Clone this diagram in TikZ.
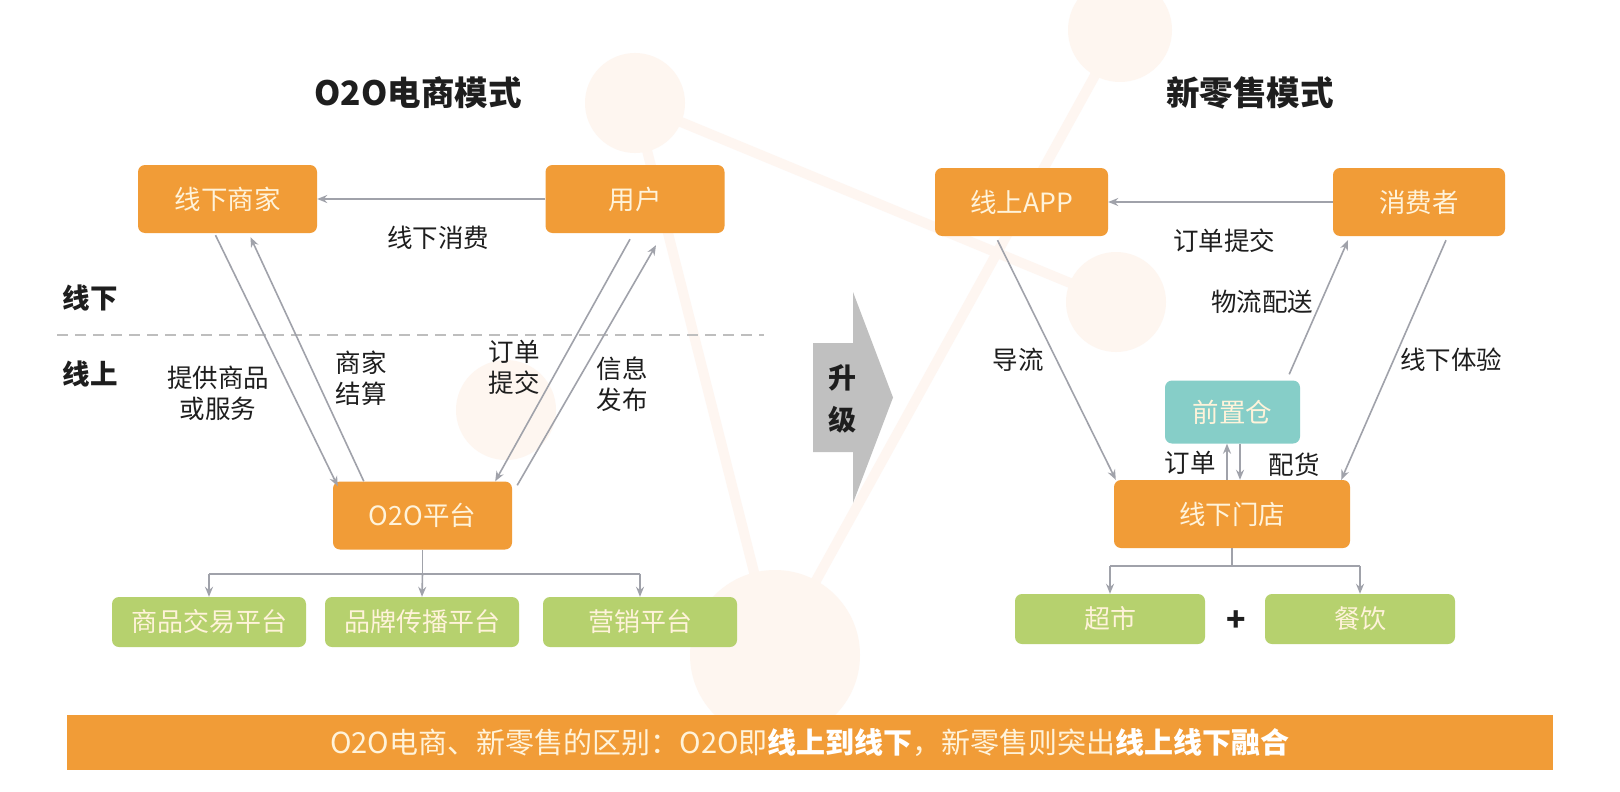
\documentclass[tikz,border=0pt]{standalone}
\usepackage{fontspec}
\setmainfont{Noto Sans CJK SC}
\usetikzlibrary{arrows.meta,calc}
\definecolor{boxorange}{RGB}{241,156,55}
\definecolor{boxtext}{RGB}{255,243,218}
\definecolor{boxgreen}{RGB}{182,209,110}
\definecolor{boxteal}{RGB}{134,206,200}
\definecolor{arrgray}{RGB}{160,162,170}
\definecolor{dashgray}{RGB}{190,190,190}
\definecolor{upgray}{RGB}{192,192,192}
\definecolor{decocirc}{RGB}{254,246,240}
\definecolor{decoline}{RGB}{254,246,241}
\definecolor{txtdark}{RGB}{30,30,30}
\tikzset{
  base/.style={rounded corners=7pt, text=boxtext, inner sep=0pt, font=\fontsize{26.5}{30}\selectfont},
  obox/.style={base, fill=boxorange, minimum width=179pt, minimum height=68pt},
  wbox/.style={base, fill=boxorange, minimum width=236pt, minimum height=68pt},
  tbox/.style={base, fill=boxteal, minimum width=135pt, minimum height=63pt},
  gbox/.style={base, fill=boxgreen, minimum width=194pt, minimum height=50pt, font=\fontsize{26}{30}\selectfont},
  lbl/.style={text=txtdark, inner sep=0pt, align=center, font=\fontsize{25.5}{31}\selectfont},
  blbl/.style={text=txtdark, inner sep=0pt, font=\bfseries\fontsize{27.5}{30}\selectfont},
  ttl/.style={text=txtdark, inner sep=0pt, font=\bfseries\fontsize{33.5}{36}\selectfont},
  arr/.style={draw=arrgray, line width=1.6pt, -{Stealth[length=10pt,width=8pt]}},
  ln/.style={draw=arrgray, line width=1.6pt},
  deco/.style={fill=decocirc, draw=none},
  decol/.style={draw=decoline, line width=10pt}
}
\begin{document}
\begin{tikzpicture}[x=1pt,y=-1pt]
\useasboundingbox (0,0) rectangle (1620,792);
\fill[white] (0,0) rectangle (1620,792);
% background decoration
\coordinate (dA) at (635,103);
\coordinate (dB) at (1120,30);
\coordinate (dC) at (1116,302);
\coordinate (dD) at (506,410);
\coordinate (dE) at (775,655);
\draw[decol] (dA) -- (dC);
\draw[decol] (dA) -- (dE);
\draw[decol] (dB) -- (dE);
\fill[deco] (dA) circle (50);
\fill[deco] (dB) circle (52);
\fill[deco] (dC) circle (50);
\fill[deco] (dD) circle (50);
\fill[deco] (dE) circle (85);

% titles
\node[ttl] (t1) at (418,93) {O2O电商模式};
\node[ttl] (t2) at (1250,93) {新零售模式};

% left diagram
\node[obox] (sj) at (227.5,199) {线下商家};
\node[obox] (yh) at (635,199) {用户};
\node[obox] (o2o) at (422.5,515.5) {O2O平台};
\node[gbox] (g1) at (209,622) {商品交易平台};
\node[gbox] (g2) at (422,622) {品牌传播平台};
\node[gbox] (g3) at (640,622) {营销平台};

\draw[arr] (yh.west) -- (sj.east);
\node[lbl] (l1) at (438,238) {线下消费};

\node[blbl] (xx) at (90,298) {线下};
\node[blbl] (xs) at (90,374) {线上};
\coordinate (dl1) at (57,335);
\coordinate (dl2) at (764,335);
\draw[dashgray, line width=2pt, dash pattern=on 11pt off 7pt] (dl1) -- (dl2);

\draw[arr] ([xshift=-12pt,yshift=-2pt]sj.south) -- ([xshift=5pt,yshift=-5pt]o2o.north west);
\draw[arr] ([xshift=31pt]o2o.north west) -- ([xshift=23pt,yshift=-4pt]sj.south);
\draw[arr] ([xshift=-5pt,yshift=-6pt]yh.south) -- ([xshift=-17pt]o2o.north east);
\draw[arr] ([xshift=5pt,yshift=-4pt]o2o.north east) -- ([xshift=21pt,yshift=-12pt]yh.south);

\node[lbl] (l2) at (218,393) {提供商品\\或服务};
\node[lbl] (l3) at (361,378) {商家\\结算};
\node[lbl] (l4) at (514,367) {订单\\提交};
\node[lbl] (l5) at (622,384) {信息\\发布};

\coordinate (lt) at ($(o2o.south)+(0,24)$);
\draw[ln] (o2o.south) -- (lt);
\draw[ln] (g1.north |- lt) -- (g3.north |- lt);
\draw[arr] (g1.north |- lt) -- (g1.north);
\draw[arr] (lt) -- (g2.north);
\draw[arr] (g3.north |- lt) -- (g3.north);

% upgrade arrow
\fill[upgray] (813,343) -- (853,343) -- (853,292) -- (893,397.5) -- (853,503) -- (853,452) -- (813,452) -- cycle;
\node[ttl, font=\bfseries\fontsize{28}{32}\selectfont] (u1) at (842,378) {升};
\node[ttl, font=\bfseries\fontsize{28}{32}\selectfont] (u2) at (842,420) {级};

% right diagram
\node[obox, minimum width=173pt] (app) at (1021.5,202) {线上APP};
\node[obox, minimum width=172pt] (xf) at (1419,202) {消费者};
\node[tbox] (qz) at (1232.5,412) {前置仓};
\node[wbox] (md) at (1232,514) {线下门店};
\node[gbox, minimum width=190pt] (g4) at (1110,619) {超市};
\node[gbox, minimum width=190pt] (g5) at (1360,619) {餐饮};
\node[text=txtdark, inner sep=0pt, font=\bfseries\fontsize{32}{34}\selectfont] (plus) at (1236,621) {+};

\draw[arr] (xf.west) -- (app.east);
\node[lbl] (r1) at (1224,241) {订单提交};

\draw[arr] ([xshift=-24pt,yshift=-4pt]app.south) -- ([xshift=2pt]md.north west);
\draw[arr] ([xshift=27pt,yshift=-4pt]xf.south) -- ([xshift=-9pt]md.north east);
\draw[arr] ([xshift=-11pt,yshift=6pt]qz.north east) -- ([xshift=-71pt,yshift=-4pt]xf.south);
\draw[arr] ([xshift=-5pt]md.north) -- ([xshift=-5.5pt]qz.south);
\draw[arr] ([xshift=7.5pt]qz.south) -- ([xshift=8pt]md.north);

\node[lbl] (r2) at (1018,360) {导流};
\node[lbl] (r3) at (1451,360) {线下体验};
\node[lbl] (r4) at (1262,302) {物流配送};
\node[lbl] (r5) at (1190,463) {订单};
\node[lbl] (r6) at (1294,465) {配货};

\coordinate (rt) at ($(md.south)+(0,18)$);
\draw[ln] (md.south) -- (rt);
\draw[ln] (g4.north |- rt) -- (g5.north |- rt);
\draw[arr] (g4.north |- rt) -- (g4.north);
\draw[arr] (g5.north |- rt) -- (g5.north);

% bottom bar
\node[fill=boxorange, minimum width=1486pt, minimum height=55pt, inner sep=0pt, text=boxtext, font=\fontsize{29}{32}\selectfont] (bar) at (810,742.5)
  {O2O电商、新零售的区别：O2O即\textbf{\color{white}线上到线下}，新零售则突出\textbf{\color{white}线上线下融合}};
\end{tikzpicture}
\end{document}
